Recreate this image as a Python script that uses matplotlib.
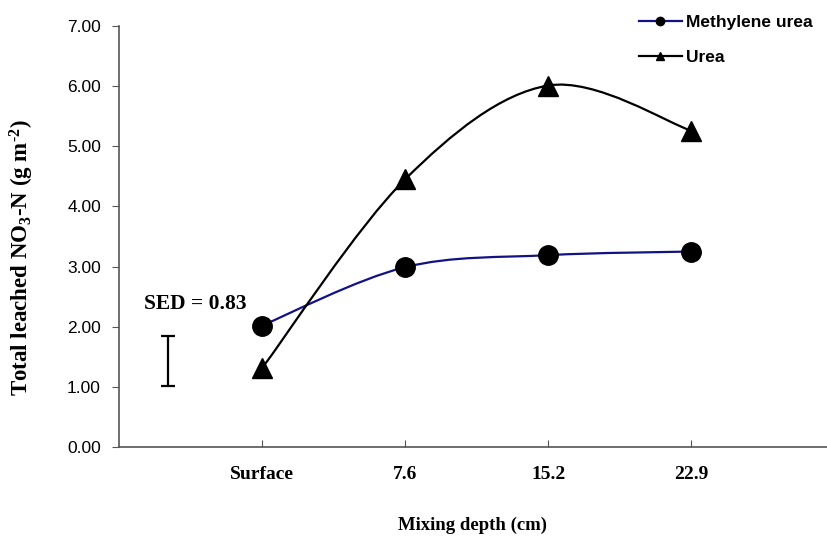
import numpy as np
import matplotlib.pyplot as plt
from matplotlib.path import Path
from matplotlib.patches import PathPatch
from matplotlib.lines import Line2D

depths = ["Surface", "7.6", "15.2", "22.9"]
methylene_urea = [2.02, 2.99, 3.19, 3.25]
urea = [1.31, 4.45, 6.01, 5.26]
sed = 0.83
sed_base = 1.02


def smooth_path(xs, ys):
    # Excel-style smoothed line: cubic Bezier segments with 1/6 tangents
    pts = np.column_stack([xs, ys]).astype(float)
    ext = np.vstack([pts[0], pts, pts[-1]])
    verts = [pts[0]]
    codes = [Path.MOVETO]
    for i in range(1, len(ext) - 2):
        p0, p1, p2, p3 = ext[i - 1], ext[i], ext[i + 1], ext[i + 2]
        verts += [p1 + (p2 - p0) / 6, p2 - (p3 - p1) / 6, p2]
        codes += [Path.CURVE4] * 3
    return Path(verts, codes)


serif = "Liberation Serif"
sans = "Liberation Sans"

fig = plt.figure(figsize=(8.27, 5.37), dpi=100)
ax = fig.add_axes([119 / 827, 90 / 537, 708 / 827, 421 / 537])

x = np.arange(1, len(depths) + 1)

ax.add_patch(PathPatch(smooth_path(x, methylene_urea), fill=False,
                       edgecolor="#121285", lw=1.6, zorder=2))
ax.add_patch(PathPatch(smooth_path(x, urea), fill=False,
                       edgecolor="black", lw=1.6, zorder=2))
ax.plot(x, methylene_urea, ls="none", marker="o", ms=14, color="black", zorder=3)
ax.plot(x, urea, ls="none", marker="^", ms=14, color="black", zorder=3)

# SED bar
ax.errorbar([0.34], [sed_base + sed / 2], yerr=[sed / 2], fmt="none",
            ecolor="black", elinewidth=1.6, capsize=5, capthick=1.6)
ax.text(0.53, 2.38, f"SED = {sed:.2f}", ha="center", va="center",
        family=serif, fontweight="bold", fontsize=15.5)

ax.set_xlim(0, 4.95)
ax.set_ylim(0, 7)
ax.set_xticks(x)
ax.set_xticklabels(depths, family=serif, fontweight="bold", fontsize=14)
ax.set_yticks(np.arange(0, 8))
ax.set_yticklabels([f"{v:.2f}" for v in range(8)], family=sans, fontsize=12.5)

for s in ["top", "right"]:
    ax.spines[s].set_visible(False)
for s in ["left", "bottom"]:
    ax.spines[s].set_color("#555555")
    ax.spines[s].set_linewidth(1.2)
ax.tick_params(axis="x", direction="in", length=5, pad=14, color="#555555")
ax.tick_params(axis="y", direction="out", length=5, pad=8, color="#555555")

ax.set_xlabel("Mixing depth (cm)", family=serif, fontweight="bold",
              fontsize=13.5, labelpad=24)
ax.set_ylabel("Total leached NO$\\mathregular{_3}$-N (g m$\\mathregular{^{‐2}}$)",
              family=serif, fontweight="bold", fontsize=16.5)
ax.yaxis.set_label_coords(-0.117, 0.45)

handles = [
    Line2D([], [], color="#121285", lw=1.6, marker="o", ms=6,
           mfc="black", mec="black"),
    Line2D([], [], color="black", lw=1.6, marker="^", ms=6),
]
fig.legend(handles, ["Methylene urea", "Urea"], loc="upper left",
           bbox_to_anchor=(630 / 827, 1 - 6 / 537), frameon=False,
           prop={"family": sans, "weight": "bold", "size": 12.5},
           handlelength=2.5, handletextpad=0.25, labelspacing=1.15, borderpad=0)

fig.savefig("out.png", dpi=100)
